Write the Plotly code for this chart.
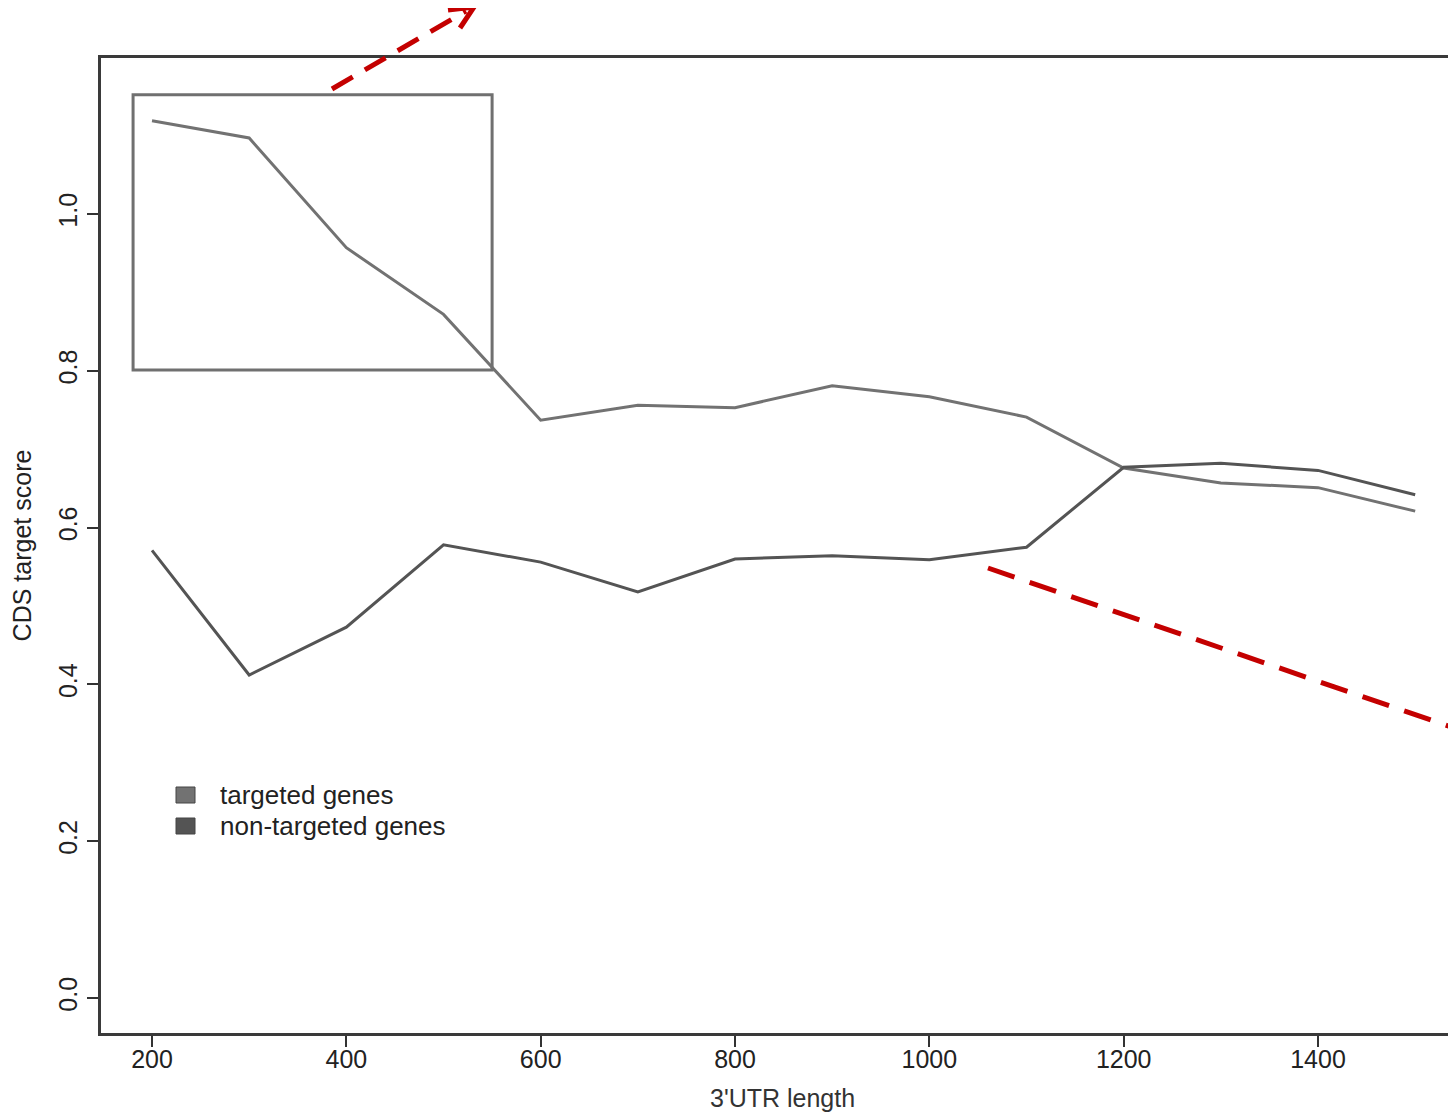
import plotly.graph_objects as go

utr_length = [200, 300, 400, 500, 600, 700, 800, 900, 1000, 1100, 1200, 1300, 1400, 1500]
targeted = [1.119, 1.097, 0.957, 0.872, 0.737, 0.756, 0.753, 0.781, 0.767, 0.741, 0.676, 0.657, 0.651, 0.621]
non_targeted = [0.571, 0.412, 0.473, 0.578, 0.556, 0.518, 0.560, 0.564, 0.559, 0.575, 0.677, 0.682, 0.673, 0.642]
series_names = ["targeted genes", "non-targeted genes"]
series_colors = ["#727272", "#545454"]
x_ticks = [200, 400, 600, 800, 1000, 1200, 1400]
y_ticks = [0.0, 0.2, 0.4, 0.6, 0.8, 1.0]
y_tick_labels = ["0.0", "0.2", "0.4", "0.6", "0.8", "1.0"]

OFF = 8  # page body margin
W, H = 1456 - OFF, 1113 - OFF
L, R, T, B = 101 - OFF, 0, 58 - OFF, 1113 - 1033
FONT = "Liberation Sans, Arial, Helvetica, sans-serif"

def px(x):
    # reference page pixel -> paper x
    return (x - OFF - L) / (W - L - R)

def py(y):
    return (H - B - (y - OFF)) / (H - T - B)

fig = go.Figure()
for name, vals, col in zip(series_names, [targeted, non_targeted], series_colors):
    fig.add_trace(go.Scatter(x=utr_length, y=vals, mode="lines", name=name,
                             line=dict(color=col, width=3), showlegend=False))

# highlight rectangle
fig.add_shape(type="rect", xref="x", yref="y", x0=180.5, x1=550, y0=0.801, y1=1.152,
              line=dict(color="#707070", width=3))

# red dashed arrows (annotations)
red = "#c40000"
fig.add_shape(type="line", xref="paper", yref="paper",
              x0=px(332), y0=py(89), x1=px(466), y1=py(11),
              line=dict(color=red, width=5, dash="24px,14px"))
fig.add_shape(type="path", xref="paper", yref="paper",
              path=f"M {px(448)},{py(10)} L {px(474)},{py(7)} L {px(460)},{py(28)}",
              line=dict(color=red, width=5))
fig.add_shape(type="line", xref="paper", yref="paper",
              x0=px(988), y0=py(568), x1=px(1460), y1=py(730),
              line=dict(color=red, width=5, dash="28px,16px"))

# custom legend (squares + labels)
legend_rows = [795, 826]
for name, col, yr in zip(series_names, series_colors, legend_rows):
    fig.add_shape(type="rect", xref="paper", yref="paper",
                  x0=px(176), x1=px(195), y0=py(yr - 8), y1=py(yr + 8),
                  fillcolor=col, line=dict(color="#444", width=1))
    fig.add_annotation(text=name, xref="paper", yref="paper", x=px(218), y=py(yr),
                       showarrow=False, xanchor="left", yanchor="middle",
                       font=dict(family=FONT, size=26, color="#222"))

# x title centered on full (cropped) plot region
fig.add_annotation(text="3'UTR length", xref="paper", yref="paper",
                   x=px(783), y=py(1098), showarrow=False,
                   font=dict(family=FONT, size=25, color="#333"),
                   xanchor="center", yanchor="middle")

fig.update_layout(
    width=W, height=H,
    margin=dict(l=L, r=R, t=T, b=B),
    paper_bgcolor="white", plot_bgcolor="white", showlegend=False,
    font=dict(family=FONT, size=25, color="#222"),
    xaxis=dict(range=[147.5, 1542], tickvals=x_ticks, ticks="outside", ticklen=11,
               tickwidth=2, tickcolor="#333", showline=True, linewidth=3,
               linecolor="#3a3a3a", mirror=True, showgrid=False, zeroline=False,
               ticklabelstandoff=-9, tickfont=dict(size=25, color="#222")),
    yaxis=dict(range=[-0.0446, 1.199], tickvals=y_ticks, ticktext=y_tick_labels,
               ticks="outside", ticklen=11, tickwidth=2, tickcolor="#333",
               showline=True, linewidth=3, linecolor="#3a3a3a", showgrid=False,
               zeroline=False, tickangle=-90, tickfont=dict(size=25, color="#222"),
               title=dict(text="CDS target score", font=dict(size=25, color="#222"),
                          standoff=16)),
)

fig.write_html("out.html")
